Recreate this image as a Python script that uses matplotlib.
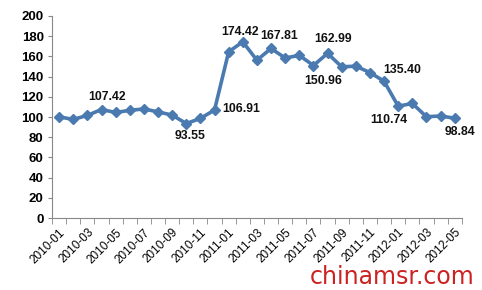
import matplotlib.pyplot as plt
import numpy as np

plt.rcParams['font.family'] = ['Liberation Sans', 'DejaVu Sans']

# monthly index values, 2010-01 .. 2012-05
months = ['2010-01', '2010-02', '2010-03', '2010-04', '2010-05', '2010-06',
          '2010-07', '2010-08', '2010-09', '2010-10', '2010-11', '2010-12',
          '2011-01', '2011-02', '2011-03', '2011-04', '2011-05', '2011-06',
          '2011-07', '2011-08', '2011-09', '2011-10', '2011-11', '2011-12',
          '2012-01', '2012-02', '2012-03', '2012-04', '2012-05']
values = [100.2, 97.6, 101.6, 107.42, 104.5, 106.6, 108.0, 105.1, 101.9,
          93.55, 98.6, 106.91,
          164.5, 174.42, 156.2, 167.81, 158.4, 161.0, 150.96, 162.99,
          149.7, 150.3, 144.0, 135.40,
          110.74, 113.4, 100.3, 101.0, 98.84]

# labelled points: (index, x offset, y offset) in points
labels = {3: (4, 9), 9: (3, -9), 11: (19, 1), 13: (-2, 7), 15: (6, 9),
          18: (7, -11), 19: (4, 10), 23: (13, 8), 24: (-7, -10), 28: (4, -10)}

fig = plt.figure(figsize=(4.82, 2.90), dpi=100)
ax = fig.add_axes([0.108, 0.248, 0.85, 0.697])

x = np.arange(len(months))
ax.plot(x, values, color='#4A7AB0', lw=2.6, marker='D', ms=5.5,
        markerfacecolor='#4A7AB0', markeredgecolor='#4A7AB0', zorder=3)

for i, (dx, dy) in labels.items():
    ax.annotate(f'{values[i]:.2f}', (x[i], values[i]), xytext=(dx, dy),
                textcoords='offset points', ha='center', va='center',
                fontsize=8.8, fontweight='bold', color='#111111')

ax.set_xlim(-0.5, len(months) - 0.5)
ax.set_ylim(0, 200)
ax.set_yticks(range(0, 201, 20))
ax.tick_params(axis='y', labelsize=9.5, length=3, color='#888888', pad=3)
for t in ax.get_yticklabels():
    t.set_fontweight('bold')

ax.set_xticks(x[::2])
ax.set_xticklabels(months[::2], rotation=45, ha='right', rotation_mode='anchor',
                   fontsize=8.5)
ax.set_xticks(np.arange(-0.5, len(months), 1), minor=True)
ax.tick_params(axis='x', which='major', length=0, pad=6)
ax.tick_params(axis='x', which='minor', length=4, color='#888888')

for s in ['top', 'right']:
    ax.spines[s].set_visible(False)
for s in ['left', 'bottom']:
    ax.spines[s].set_color('#888888')

fig.text(0.985, 0.005, 'chinamsr.com', color='#CC2222', fontsize=17,
         ha='right', va='bottom', family=['DejaVu Sans'])

fig.savefig('out.png', dpi=100)
